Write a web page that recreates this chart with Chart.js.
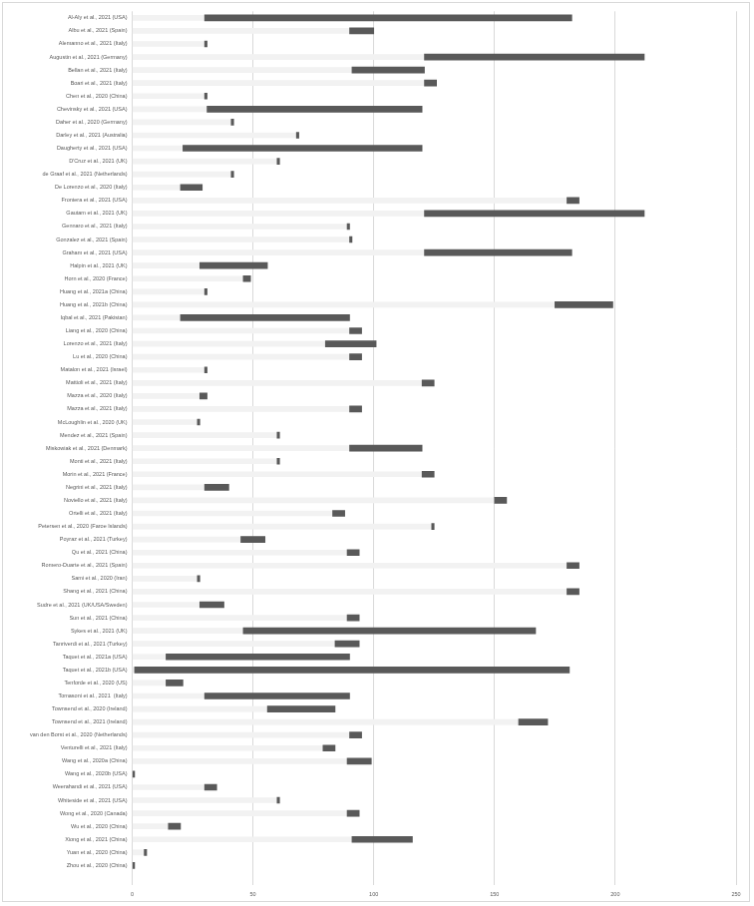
<!DOCTYPE html>
<html lang="en">
  <head>
    <meta charset="UTF-8" />
    <title>Study follow-up</title>
    <style>
      body {
        margin: 0;
        background: #ffffff;
      }
      #chart {
        display: block;
        margin: 2px;
        border: 1px solid #d9d9d9;
      }
    </style>
  </head>

  <body>
    <canvas id="chart" width="748" height="900"></canvas>

    <script src="https://cdn.jsdelivr.net/npm/chart.js"></script>
    <script>
      // one row per study, last one is the blank row of the sheet
      const studies = [
        "Al-Aly et al., 2021 (USA)",
        "Albu et al., 2021 (Spain)",
        "Alemanno et al., 2021 (Italy)",
        "Augustin et al., 2021 (Germany)",
        "Bellan et al., 2021 (Italy)",
        "Boari et al., 2021 (Italy)",
        "Chen et al., 2020 (China)",
        "Chevinsky et al., 2021 (USA)",
        "Daher et al., 2020 (Germany)",
        "Darley et al., 2021 (Australia)",
        "Daugherty et al., 2021 (USA)",
        "D'Cruz et al., 2021 (UK)",
        "de Graaf et al., 2021 (Netherlands)",
        "De Lorenzo et al., 2020 (Italy)",
        "Frontera et al., 2021 (USA)",
        "Gautam et al., 2021 (UK)",
        "Gennaro et al., 2021 (Italy)",
        "Gonzalez et al., 2021 (Spain)",
        "Graham et al., 2021 (USA)",
        "Halpin et al., 2021 (UK)",
        "Horn et al., 2020 (France)",
        "Huang et al., 2021a (China)",
        "Huang et al., 2021b (China)",
        "Iqbal et al., 2021 (Pakistan)",
        "Liang et al., 2020 (China)",
        "Lorenzo et al., 2021 (Italy)",
        "Lu et al., 2020 (China)",
        "Matalon et al., 2021 (Israel)",
        "Mattioli et al., 2021 (Italy)",
        "Mazza et al., 2020 (Italy)",
        "Mazza et al., 2021 (Italy)",
        "McLoughlin et al., 2020 (UK)",
        "Mendez et al., 2021 (Spain)",
        "Miskowiak et al., 2021 (Denmark)",
        "Monti et al., 2021 (Italy)",
        "Morin et al., 2021 (France)",
        "Negrini et al., 2021 (Italy)",
        "Noviello et al., 2021 (Italy)",
        "Ortelli et al., 2021 (Italy)",
        "Petersen et al., 2020 (Faroe Islands)",
        "Poyraz et al., 2021 (Turkey)",
        "Qu et al., 2021 (China)",
        "Romero-Duarte et al., 2021 (Spain)",
        "Sami et al., 2020 (Iran)",
        "Shang et al., 2021 (China)",
        "Sudre et al., 2021 (UK/USA/Sweden)",
        "Sun et al., 2021 (China)",
        "Sykes et al., 2021 (UK)",
        "Tanriverdi et al., 2021 (Turkey)",
        "Taquet et al., 2021a (USA)",
        "Taquet et al., 2021b (USA)",
        "Tenforde et al., 2020 (US)",
        "Tomasoni et al., 2021  (Italy)",
        "Townsend et al., 2020 (Ireland)",
        "Townsend et al., 2021 (Ireland)",
        "van den Borst et al., 2020 (Netherlands)",
        "Venturelli et al., 2021 (Italy)",
        "Wang et al., 2020a (China)",
        "Wang et al., 2020b (USA)",
        "Weerahandi et al., 2021 (USA)",
        "Whiteside et al., 2021 (USA)",
        "Wong et al., 2020 (Canada)",
        "Wu et al., 2020 (China)",
        "Xiong et al., 2021 (China)",
        "Yuan et al., 2020 (China)",
        "Zhou et al., 2020 (China)",
        "",
      ];

      // start of follow-up window
      const followStart = [
        30, 90, 30, 121, 91, 121, 30, 31, 41, 68,
        21, 60, 41, 20, 180, 121, 89, 90, 121, 28,
        46, 30, 175, 20, 90, 80, 90, 30, 120, 28,
        90, 27, 60, 90, 60, 120, 30, 150, 83, 124,
        45, 89, 180, 27, 180, 28, 89, 46, 84, 14,
        1, 14, 30, 56, 160, 90, 79, 89, 0, 30,
        60, 89, 15, 91, 5, 0,
      ];

      // end of follow-up window
      const followEnd = [
        182, 100, 31, 212, 121, 126, 31, 120, 42, 69,
        120, 61, 42, 29, 185, 212, 90, 91, 182, 56,
        49, 31, 199, 90, 95, 101, 95, 31, 125, 31,
        95, 28, 61, 120, 61, 125, 40, 155, 88, 125,
        55, 94, 185, 28, 185, 38, 94, 167, 94, 90,
        181, 21, 90, 84, 172, 95, 84, 99, 1, 35,
        61, 94, 20, 116, 6, 1,
      ];

      const xTicks = [0, 50, 100, 150, 200, 250];

      const font = { family: "'Liberation Sans', Arial, sans-serif", size: 5.5 };

      new Chart(document.getElementById("chart"), {
        type: "bar",
        data: {
          labels: studies,
          datasets: [
            {
              label: "window",
              data: followStart.map((s, i) => [s, followEnd[i]]),
              backgroundColor: "#595959",
              barThickness: 6,
              grouped: false,
            },
            {
              label: "offset",
              data: followStart,
              backgroundColor: "#f2f2f2",
              barThickness: 5,
              grouped: false,
            },
          ],
        },
        options: {
          indexAxis: "y",
          responsive: false,
          animation: false,
          layout: {
            padding: { top: 6.5, right: 13, left: 0, bottom: 0 },
          },
          plugins: {
            legend: { display: false },
            tooltip: { enabled: false },
          },
          scales: {
            x: {
              min: 0,
              max: 250,
              afterBuildTicks: (scale) => {
                scale.ticks = xTicks.map((v) => ({ value: v }));
              },
              afterFit: (scale) => {
                scale.height = 16;
              },
              grid: { color: "#d9d9d9", lineWidth: 1, drawTicks: false },
              border: { display: false },
              ticks: { color: "#595959", font: font, padding: 6 },
            },
            y: {
              afterFit: (scale) => {
                scale.width = 129.5;
              },
              grid: { display: false, drawTicks: false },
              border: { display: false },
              ticks: {
                color: "#595959",
                font: font,
                autoSkip: false,
                padding: 5,
              },
            },
          },
        },
      });
    </script>
  </body>
</html>
